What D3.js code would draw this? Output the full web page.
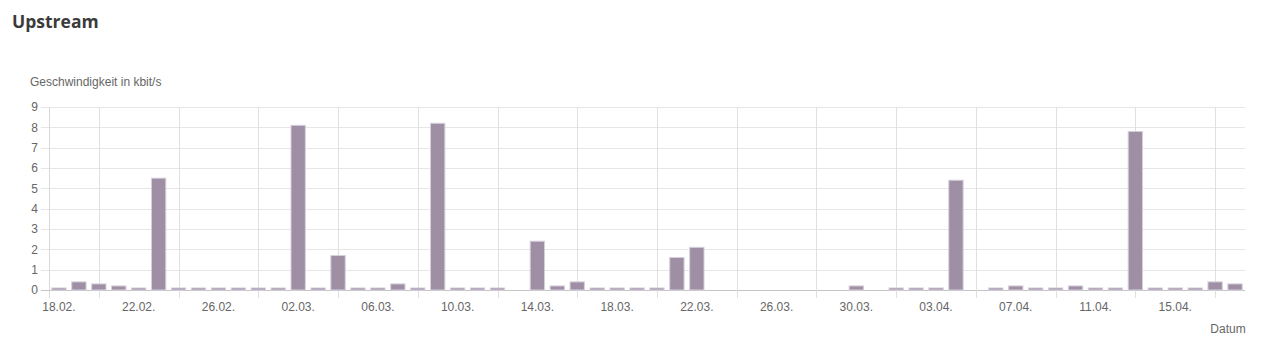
<!DOCTYPE html>
<html>
<head>
<meta charset="utf-8">
<script src="https://cdn.jsdelivr.net/npm/d3@7"></script>
<style>
  body { margin: 0; background: #fff; }
  svg text { font-family: "Liberation Sans", Arial, sans-serif; }
</style>
</head>
<body>
<div id="chart"></div>
<script>
// days 18.02. - 18.04.
const startDay = new Date(2021, 1, 18);
const dayCount = 60;
const days = d3.range(dayCount).map((i) => d3.timeDay.offset(startDay, i));

// upstream speed per day in kbit/s
const upstream = [
  0.1, 0.4, 0.3, 0.2, 0.1, 5.5, 0.1, 0.1, 0.1, 0.1,
  0.1, 0.1, 8.1, 0.1, 1.7, 0.1, 0.1, 0.3, 0.1, 8.2,
  0.1, 0.1, 0.1, 0, 2.4, 0.2, 0.4, 0.1, 0.1, 0.1,
  0.1, 1.6, 2.1, 0, 0, 0, 0, 0, 0, 0,
  0.2, 0, 0.1, 0.1, 0.1, 5.4, 0, 0.1, 0.2, 0.1,
  0.1, 0.2, 0.1, 0.1, 7.8, 0.1, 0.1, 0.1, 0.4, 0.3
];

const yTicks = [0, 1, 2, 3, 4, 5, 6, 7, 8, 9];

const width = 1272;
const height = 356;
const margin = { left: 49, right: 27, top: 107, bottom: 66 };

const fmt = d3.timeFormat("%d.%m.");

const svg = d3.select("#chart")
    .append("svg")
    .attr("width", width)
    .attr("height", height);

// title
svg.append("text")
    .attr("x", 12)
    .attr("y", 28)
    .attr("font-size", "17.5px")
    .attr("font-weight", "bold")
    .attr("fill", "#3b3b3b")
    .style("font-family", "'Open Sans', sans-serif")
    .text("Upstream");

const x = d3.scaleBand()
    .domain(d3.range(dayCount))
    .range([margin.left, width - margin.right]);

const y = d3.scaleLinear()
    .domain([0, 9])
    .range([height - margin.bottom, margin.top]);

// horizontal grid
svg.append("g")
    .selectAll("line")
    .data(yTicks)
    .join("line")
    .attr("x1", margin.left - 8)
    .attr("x2", width - margin.right)
    .attr("y1", (d) => Math.round(y(d)) + 0.5)
    .attr("y2", (d) => Math.round(y(d)) + 0.5)
    .attr("stroke", (d) => d === 0 ? "#c4c4c4" : "#e6e6e6");

// y tick labels
svg.append("g")
    .selectAll("text")
    .data(yTicks)
    .join("text")
    .attr("x", margin.left - 11)
    .attr("y", (d) => y(d))
    .attr("dy", "0.35em")
    .attr("text-anchor", "end")
    .attr("font-size", "12px")
    .attr("fill", "#666")
    .text((d) => d);

// vertical grid (every 4th day, between the labels) + axis line
const gridIdx = d3.range(2, dayCount, 4);
svg.append("g")
    .selectAll("line")
    .data(gridIdx)
    .join("line")
    .attr("x1", (d) => Math.round(x(d) + x.bandwidth() / 2) + 0.5)
    .attr("x2", (d) => Math.round(x(d) + x.bandwidth() / 2) + 0.5)
    .attr("y1", margin.top)
    .attr("y2", height - margin.bottom + 8)
    .attr("stroke", "#e0e0e0");

svg.append("line")
    .attr("x1", margin.left + 0.5)
    .attr("x2", margin.left + 0.5)
    .attr("y1", margin.top)
    .attr("y2", height - margin.bottom + 8)
    .attr("stroke", "#d8d8d8");

// bars
const barW = x.bandwidth() * 0.72;
svg.append("g")
    .selectAll("rect")
    .data(upstream)
    .join("rect")
    .attr("x", (d, i) => x(i) + (x.bandwidth() - barW) / 2)
    .attr("y", (d) => y(d))
    .attr("width", barW)
    .attr("height", (d) => y(0) - y(d))
    .attr("fill", "#9e8fa5")
    .attr("stroke", (d) => d > 0 ? "#d8d0dc" : "none")
    .attr("stroke-width", 1);

// x labels every 4 days
const labelIdx = d3.range(0, dayCount, 4);
svg.append("g")
    .selectAll("text")
    .data(labelIdx)
    .join("text")
    .attr("x", (d) => x(d) + x.bandwidth() / 2)
    .attr("y", height - margin.bottom + 21)
    .attr("text-anchor", "middle")
    .attr("font-size", "12px")
    .attr("fill", "#666")
    .text((d) => fmt(days[d]));

// axis titles
svg.append("text")
    .attr("x", 30)
    .attr("y", 86)
    .attr("font-size", "12px")
    .attr("fill", "#666")
    .text("Geschwindigkeit in kbit/s");

svg.append("text")
    .attr("x", 1228)
    .attr("y", 333)
    .attr("text-anchor", "middle")
    .attr("font-size", "12px")
    .attr("fill", "#666")
    .text("Datum");
</script>
</body>
</html>
